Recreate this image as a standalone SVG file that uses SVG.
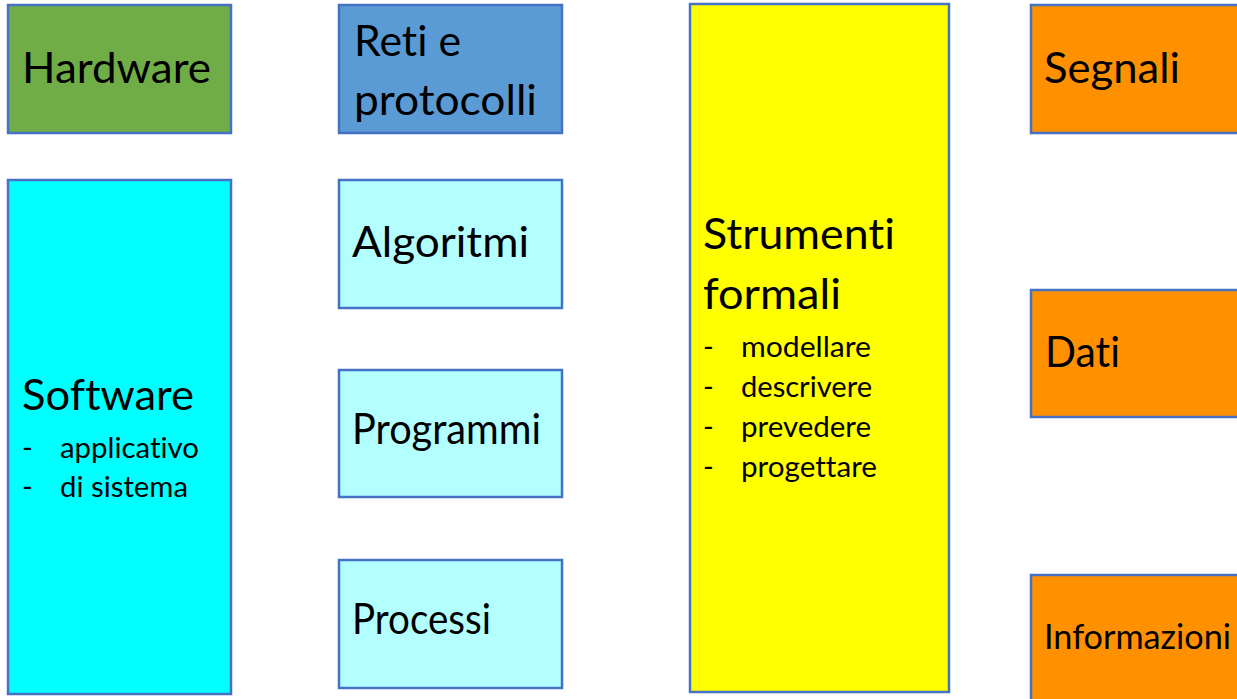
<svg xmlns="http://www.w3.org/2000/svg" width="1237" height="699" viewBox="0 0 1237 699">
  <style>
    .box { stroke: #4472C4; stroke-width: 2.5; }
    .green { fill: #70AD47; }
    .blue { fill: #5B9BD5; }
    .cyan { fill: #00FFFF; }
    .pale { fill: #B3FFFF; }
    .yellow { fill: #FFFF00; }
    .orange { fill: #FF9100; }
    text { font-family: Lato, "Open Sans", "Liberation Sans", sans-serif; fill: #000000; font-variant-ligatures: none; }
    .big { font-size: 43px; }
    .mid { font-size: 34px; }
    .small { font-size: 29px; }
  </style>
  <rect width="1237" height="699" fill="#FFFFFF"/>

  <g id="hardware">
    <rect class="box green" x="8" y="5" width="223" height="128"/>
    <text class="big" x="22" y="83" textLength="189" lengthAdjust="spacingAndGlyphs">Hardware</text>
  </g>

  <g id="reti">
    <rect class="box blue" x="339" y="5" width="223" height="128"/>
    <text class="big" x="354" y="56" textLength="107" lengthAdjust="spacingAndGlyphs">Reti e</text>
    <text class="big" x="354" y="115" textLength="183" lengthAdjust="spacingAndGlyphs">protocolli</text>
  </g>

  <g id="software">
    <rect class="box cyan" x="8" y="180" width="223" height="514"/>
    <text class="big" x="22" y="410" textLength="172" lengthAdjust="spacingAndGlyphs">Software</text>
    <text class="small" x="22" y="458">-</text>
    <text class="small" x="60" y="458" textLength="139" lengthAdjust="spacingAndGlyphs">applicativo</text>
    <text class="small" x="22" y="497">-</text>
    <text class="small" x="60" y="497" textLength="128" lengthAdjust="spacingAndGlyphs">di sistema</text>
  </g>

  <g id="algoritmi">
    <rect class="box pale" x="339" y="180" width="223" height="128"/>
    <text class="big" x="352" y="257" textLength="177" lengthAdjust="spacingAndGlyphs">Algoritmi</text>
  </g>

  <g id="programmi">
    <rect class="box pale" x="339" y="370" width="223" height="127"/>
    <text class="big" x="352" y="444" textLength="189" lengthAdjust="spacingAndGlyphs">Programmi</text>
  </g>

  <g id="processi">
    <rect class="box pale" x="339" y="560" width="223" height="128"/>
    <text class="big" x="352" y="634" textLength="139" lengthAdjust="spacingAndGlyphs">Processi</text>
  </g>

  <g id="strumenti">
    <rect class="box yellow" x="690" y="4" width="259" height="688"/>
    <text class="big" x="703" y="249" textLength="192" lengthAdjust="spacingAndGlyphs">Strumenti</text>
    <text class="big" x="703" y="309" textLength="138" lengthAdjust="spacingAndGlyphs">formali</text>
    <text class="small" x="703" y="357">-</text>
    <text class="small" x="741" y="357" textLength="130" lengthAdjust="spacingAndGlyphs">modellare</text>
    <text class="small" x="703" y="397">-</text>
    <text class="small" x="741" y="397" textLength="131" lengthAdjust="spacingAndGlyphs">descrivere</text>
    <text class="small" x="703" y="437">-</text>
    <text class="small" x="741" y="437" textLength="130" lengthAdjust="spacingAndGlyphs">prevedere</text>
    <text class="small" x="703" y="477">-</text>
    <text class="small" x="741" y="477" textLength="136" lengthAdjust="spacingAndGlyphs">progettare</text>
  </g>

  <g id="segnali">
    <rect class="box orange" x="1031" y="5" width="230" height="128"/>
    <text class="big" x="1044" y="83" textLength="136" lengthAdjust="spacingAndGlyphs">Segnali</text>
  </g>

  <g id="dati">
    <rect class="box orange" x="1031" y="290" width="230" height="127"/>
    <text class="big" x="1045" y="367" textLength="75" lengthAdjust="spacingAndGlyphs">Dati</text>
  </g>

  <g id="informazioni">
    <rect class="box orange" x="1031" y="575" width="230" height="140"/>
    <text class="mid" x="1044" y="649" textLength="187" lengthAdjust="spacingAndGlyphs">Informazioni</text>
  </g>

  <g id="connectors"/>
</svg>
